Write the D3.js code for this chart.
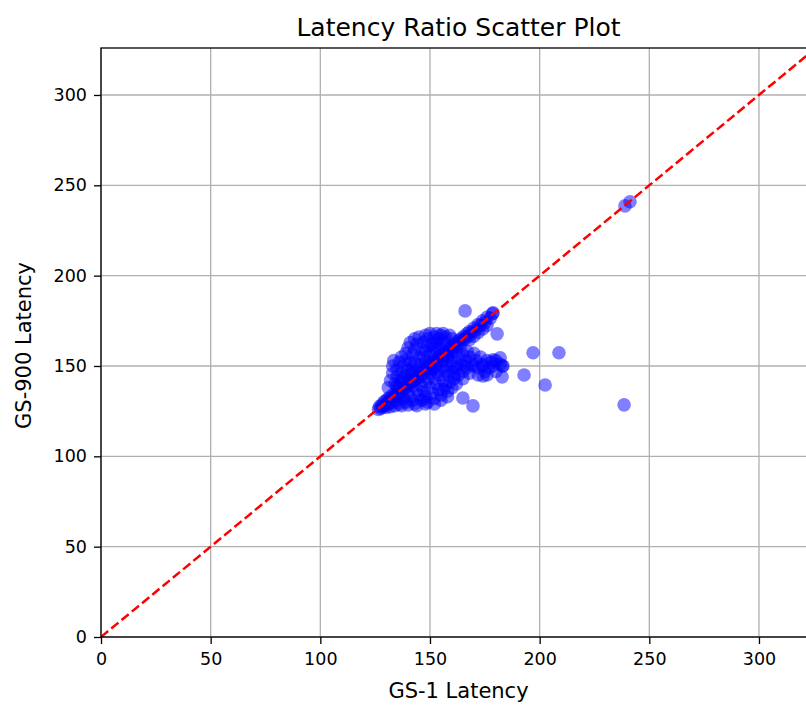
<!DOCTYPE html>
<html>
<head>
<meta charset="utf-8">
<script src="https://cdn.jsdelivr.net/npm/d3@7"></script>
<style>
  html, body { margin: 0; padding: 0; background: #fff; }
  svg { display: block; font-family: "DejaVu Sans", sans-serif; }
</style>
</head>
<body>
<svg id="chart" width="806" height="707"></svg>
<script>
// Latency pairs: GS-1 latency (x) vs GS-900 latency (y)
const gs1Diagonal = [126.5,127,127.5,128,128.5,129,129.5,130,130.5,131,131.5,132,133,133.5,134,135,135.5,136,137,137.5,138,139,139.5,140,141,141.5,142,143,143.5,144,145,145.5,146,147,147.5,148,149,149.5,150,151,151.5,152,153,153.5,154,155,155.5,156,157,157.5,158,159,159.5,160,161,161.5,162,163,163.5,164,165,165.5,166,167,167.5,168,169,170,171,172,173,174,175,176,177.5,178.5,152,156,158,160,164,168,170,172,174,176];
const gs900Diagonal = [126,127.5,126.5,128.5,127.5,130,128,131,129.5,132,130.5,133,132,134.5,133,136,134.5,137,136,138.5,137.5,140,138.5,141,140,142.5,141.5,144,142.5,145,144,146.5,145.5,148,146.5,149,148.5,150.5,149.5,152,150.5,153,152.5,154.5,153,156,154.5,157,156.5,158.5,157,160,158.5,161,160.5,162.5,161,164,162.5,165,164.5,166.5,165,168,166.5,169,168.5,171,170,173,172.5,175,174,177,176.5,179,149,152.5,154.5,156.5,160.5,164.5,166.5,168.5,170.5,172.5];

const gs1Upper = [131,132,133,133,133.5,135,135,136,137,137,138,138,139,139,140,140,141,141,141,142,142,143,143,143,144,144,145,145,146,146,147,147,148,148,148,149,149,150,150,151,151,152,152,153,153,154,154,155,155,156,157,157,159,160,134,136,137,139,142,166];
const gs900Upper = [138,142,146,150,153,148,144,152,155,146,150,143,153,157,148,160,145,152,163,156,149,159,165,152,162,148,155,166,151,159,163,155,167,152,158,161,165,168,156,162,158,166,160,168,163,165,160,167,162,168,166,163,167,165,140,139,141,145,146,180.5];

const gs1Lower = [130,131,132,133,134,135,136,137,138,139,140,141,142,143,144,145,146,147,148,149,150,151,152,153,154,155,156,157,158,159,160,161,162,163,164,165,166,167,168,169,170,171,172,173,174,175,176,177,178,179,180,182,183,180,176,172,168,165,162,160,158,156,154,152,150,148,146,144,142,140,138,136,134,132,135,137,140,143,146,149,151,153,156,158,160,163,165,167,162,158,155,153,155,158,152,148,147,162,166,170,174,161,157];
const gs900Lower = [127,129,127.5,130,128,131,129,128,132,130,128.5,133,131,129,128,134,131,136,133,130,138,135,132,140,137,134,142,139,145,141,147,143,149,145,151,147,153,149,155,151,157,153,149,155,151,147,153,149,152,150,153,151,150,147,145,145,146,143,140,138,136,137,145,143,146,141,139,137,139,135,137,134,132,131,139,142,140,142,144,143,148,147,149,150,152,154,156,158,158,155,153,151,131,133,129,129,131.5,150,150,150,150,145,147];

const gs1Outliers = [238.9,241.2,238.5,202.5,208.8,197,192.9,182.9,180.6,178.8,165,169.6,174.2,178.8,182,183.3];
const gs900Outliers = [238.6,240.9,128.5,139.5,157.3,157.3,145,144,167.8,179.4,132.3,127.9,144.5,153.4,154.5,150];

const xTicks = [0, 50, 100, 150, 200, 250, 300];
const yTicks = [0, 50, 100, 150, 200, 250, 300];
const axisMax = 326;

const gs1 = [].concat(gs1Diagonal, gs1Upper, gs1Lower, gs1Outliers);
const gs900 = [].concat(gs900Diagonal, gs900Upper, gs900Lower, gs900Outliers);
const points = gs1.map((v, i) => ({ x: v, y: gs900[i] }));

const svg = d3.select("#chart");
const plotLeft = 101, plotTop = 48, plotRight = 816, plotBottom = 637;

const x = d3.scaleLinear().domain([0, axisMax]).range([plotLeft, plotRight]);
const y = d3.scaleLinear().domain([0, axisMax]).range([plotBottom, plotTop]);

svg.append("defs").append("clipPath").attr("id", "plot-clip")
  .append("rect").attr("x", plotLeft).attr("y", plotTop)
  .attr("width", plotRight - plotLeft).attr("height", plotBottom - plotTop);

// grid
const grid = svg.append("g");
grid.selectAll("line.gx").data(xTicks).join("line")
  .attr("class", "gx")
  .attr("x1", d => x(d)).attr("x2", d => x(d))
  .attr("y1", plotTop).attr("y2", plotBottom)
  .attr("stroke", "#b0b0b0").attr("stroke-width", 1.3);
grid.selectAll("line.gy").data(yTicks).join("line")
  .attr("class", "gy")
  .attr("y1", d => y(d)).attr("y2", d => y(d))
  .attr("x1", plotLeft).attr("x2", plotRight)
  .attr("stroke", "#b0b0b0").attr("stroke-width", 1.3);

// scatter points
svg.append("g").attr("clip-path", "url(#plot-clip)")
  .selectAll("circle").data(points).join("circle")
  .attr("cx", d => x(d.x)).attr("cy", d => y(d.y))
  .attr("r", 6.8)
  .attr("fill", "#0000ff").attr("fill-opacity", 0.5);

// y = x reference line
svg.append("line").attr("clip-path", "url(#plot-clip)")
  .attr("x1", x(0)).attr("y1", y(0))
  .attr("x2", x(axisMax)).attr("y2", y(axisMax))
  .attr("stroke", "#ff0000").attr("stroke-width", 2.5)
  .attr("stroke-dasharray", "9.3,4");

// axes
const xAxis = d3.axisBottom(x).tickValues(xTicks).tickSize(7).tickPadding(9).tickFormat(d3.format("d"));
const yAxis = d3.axisLeft(y).tickValues(yTicks).tickSize(7).tickPadding(7).tickFormat(d3.format("d"));

const gx = svg.append("g").attr("transform", `translate(0,${plotBottom})`).call(xAxis);
const gy = svg.append("g").attr("transform", `translate(${plotLeft},0)`).call(yAxis);
[gx, gy].forEach(g => {
  g.select(".domain").remove();
  g.selectAll(".tick line").attr("stroke", "#000").attr("stroke-width", 1.3);
  g.selectAll(".tick text").attr("fill", "#000").style("font-size", "17.5px")
    .style("font-family", "DejaVu Sans, sans-serif");
});

// spines
svg.append("rect").attr("x", plotLeft).attr("y", plotTop)
  .attr("width", plotRight - plotLeft).attr("height", plotBottom - plotTop)
  .attr("fill", "none").attr("stroke", "#000").attr("stroke-width", 1.3);

// labels
svg.append("text").attr("x", (plotLeft + plotRight) / 2).attr("y", 36)
  .attr("text-anchor", "middle").style("font-size", "25px")
  .text("Latency Ratio Scatter Plot");
svg.append("text").attr("x", (plotLeft + plotRight) / 2).attr("y", 698)
  .attr("text-anchor", "middle").style("font-size", "21px")
  .text("GS-1 Latency");
svg.append("text")
  .attr("transform", `translate(31,${(plotTop + plotBottom) / 2 + 3}) rotate(-90)`)
  .attr("text-anchor", "middle").style("font-size", "21px")
  .text("GS-900 Latency");
</script>
</body>
</html>
